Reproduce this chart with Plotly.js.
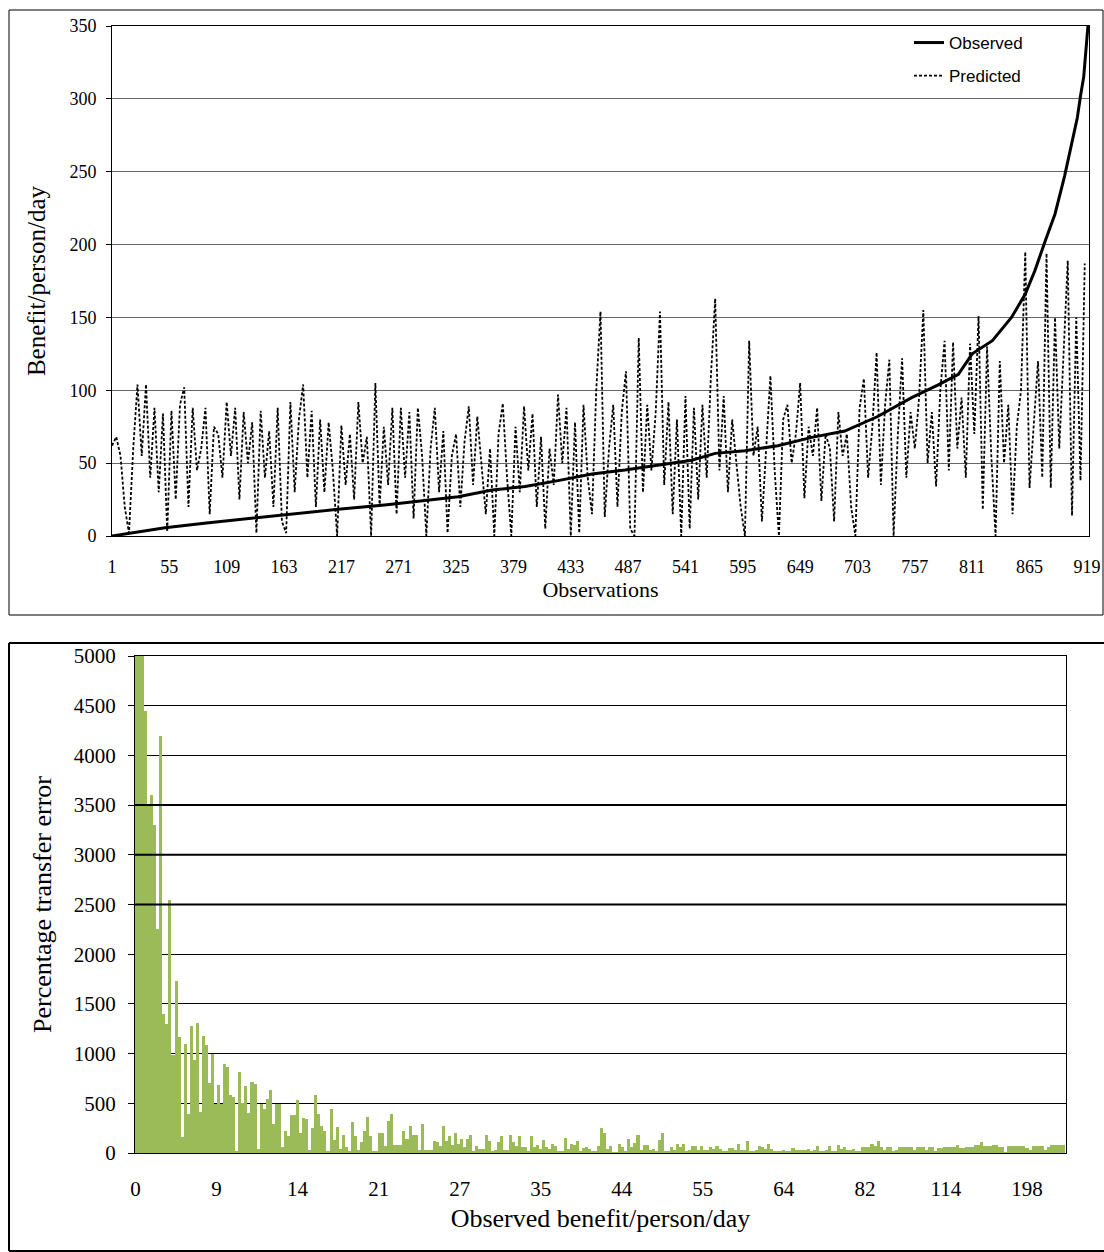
<!DOCTYPE html>
<html>
<head>
<meta charset="utf-8">
<script src="https://cdn.plot.ly/plotly-3.0.1.min.js"></script>
<style>
  html, body { margin: 0; padding: 0; background: #ffffff; }
  #chart { width: 1104px; height: 1252px; }
</style>
</head>
<body>
<div id="chart"></div>
<script>
// ---------- Top chart data (observations sorted by observed benefit) ----------
const topTickVals = [1, 55, 109, 163, 217, 271, 325, 379, 433, 487, 541, 595, 649, 703, 757, 811, 865, 919];
const topTickText = ['1','55','109','163','217','271','325','379','433','487','541','595','649','703','757','811','865','919'];

// Observed benefit/person/day read at selected observation numbers
const observedObs = [1, 20, 51, 90, 136, 175, 214, 260, 296, 327, 359, 390, 421, 453, 484, 515, 547, 569, 597, 628,
                     660, 691, 722, 754, 779, 798, 811, 830, 848, 861, 870, 880, 889, 898, 903, 910, 913, 916, 920];
const observedVal = [0, 2, 5.7, 9, 12.6, 15.5, 18.3, 21.5, 24.3, 27, 31.6, 33.9, 38, 42.6, 45.3, 48.7, 52, 56.7, 58.5, 62,
                     67.7, 72, 82, 95, 103.7, 111, 125, 134, 150, 166, 182, 203, 221, 247, 263, 287, 302, 315, 350];

// Predicted benefit/person/day, read every 4th observation (obs 1, 5, 9, ... 917)
const predictedStep = 4;
const predictedVal = [
  62, 68, 55, 20, 2, 60, 104, 55, 104, 40,
  88, 30, 84, 3, 86, 25, 90, 102, 20, 88,
  45, 60, 88, 15, 75, 70, 40, 92, 55, 88,
  25, 85, 50, 78, 2, 86, 40, 72, 20, 88,
  10, 2, 92, 30, 80, 104, 40, 86, 20, 80,
  30, 78, 45, 0, 76, 35, 70, 25, 92, 50,
  68, 0, 105, 20, 75, 35, 88, 15, 88, 40,
  85, 12, 88, 55, 0, 60, 88, 30, 72, 2,
  55, 70, 20, 65, 89, 35, 82, 50, 15, 60,
  0, 70, 91, 40, 0, 75, 30, 89, 45, 84,
  20, 68, 5, 60, 35, 97, 50, 88, 0, 78,
  2, 90, 40, 15, 100, 154, 13, 60, 90, 20,
  85, 113, 5, 0, 136, 30, 90, 45, 85, 154,
  35, 92, 15, 80, 0, 96, 5, 88, 25, 90,
  40, 110, 163, 45, 96, 30, 80, 50, 20, 0,
  134, 55, 75, 10, 60, 110, 45, 0, 80, 90,
  50, 70, 105, 26, 75, 55, 88, 24, 70, 60,
  10, 85, 55, 70, 20, 0, 88, 108, 40, 75,
  126, 35, 90, 121, 0, 70, 122, 40, 85, 60,
  95, 155, 50, 85, 34, 100, 134, 45, 133, 60,
  95, 40, 132, 70, 151, 18, 130, 55, 0, 120,
  50, 90, 15, 75, 100, 195, 33, 80, 120, 40,
  194, 33, 150, 60, 120, 189, 14, 150, 38, 187
];
const predictedObs = predictedVal.map((_, i) => 1 + predictedStep * i);

// ---------- Bottom chart data (percentage transfer error) ----------
const bottomTickVals = [1, 81, 161, 241, 321, 401, 481, 561, 641, 721, 801, 881];
const bottomTickText = ['0', '9', '14', '21', '27', '35', '44', '55', '64', '82', '114', '198'];

// Transfer error, one value per group of 3 consecutive observations
const errorStep = 3;
const errorVal = [
  5600, 5800, 5400, 4450, 3500, 3600, 3300, 2250, 4200, 1400,
  1300, 2550, 985, 1730, 1170, 160, 1100, 390, 1280, 940,
  1307, 410, 1180, 1086, 700, 995, 493, 684, 493, 895,
  868, 583, 560, 25, 811, 503, 677, 400, 710, 694,
  40, 493, 442, 543, 637, 290, 493, 493, 57, 224,
  174, 382,
  380, 533, 206, 350, 340, 30, 250, 580, 390, 270,
  220, 20, 440, 130, 260, 40, 180, 57, 20, 310,
  173, 33, 107, 220, 360, 173, 20, 20, 206, 200,
  73, 320, 390, 80, 80, 80, 220, 140, 270, 180,
  180, 33, 290, 30, 30, 30, 120, 110, 73, 270,
  120, 170, 80, 200, 90, 140, 60, 140, 180, 23,
  73, 40, 40, 180, 120, 17, 33, 107, 170, 33,
  33, 180, 107, 67, 170, 57, 57, 23, 170, 57,
  80,
  44, 128, 60, 44, 94, 67, 17, 17, 155, 40,
  94, 84, 118, 17, 54, 60, 44, 17, 17, 67,
  255, 205, 44, 67, 10, 10, 94, 60, 17, 144,
  60, 100, 185, 27, 77, 77, 27, 44, 17, 128,
  205, 17, 17, 60, 30, 94, 60, 94, 17, 30,
  67, 67, 27, 67, 27, 27, 60, 40, 67, 44,
  17, 17, 50, 50, 30, 94, 27, 27, 118, 17,
  17, 30, 67, 60, 40, 94, 44, 17, 17, 17,
  30, 17, 17, 54, 30, 27, 27, 27, 44, 17,
  30, 67, 17, 17, 30, 67, 17, 17, 77, 40,
  60, 27, 27, 44, 17, 17, 60, 60, 60, 94,
  67, 118, 60, 27, 60, 60, 17, 30, 60, 60,
  60, 60, 60, 27, 60, 60, 60, 27, 60, 60,
  17, 50, 50, 60, 60, 60, 60, 77, 50, 50,
  60, 60, 60, 77, 77, 111, 70, 70, 70, 77,
  77, 60, 60, 10, 67, 67, 67, 67, 67, 67,
  50, 27, 67, 67, 67, 67, 27, 60, 77, 77,
  77, 77, 77
];
const errorObs = errorVal.map((_, i) => 2 + errorStep * i);

// ---------- Layout helpers ----------
const W = 1104, H = 1252;
const px = v => v / W;
const py = v => (H - v) / H;
const serif = 'Liberation Serif, Times New Roman, serif';
const sans = 'Liberation Sans, Arial, sans-serif';

const traces = [
  {
    type: 'scatter', mode: 'lines', name: 'Observed',
    x: observedObs, y: observedVal, xaxis: 'x', yaxis: 'y',
    line: { color: '#000000', width: 3 },
    legendgroup: 'a'
  },
  {
    type: 'scatter', mode: 'lines', name: 'Predicted',
    x: predictedObs, y: predictedVal, xaxis: 'x', yaxis: 'y',
    line: { color: '#000000', width: 1.8, dash: '3px,2px' },
    legendgroup: 'b'
  },
  {
    type: 'bar', name: 'Percentage transfer error',
    x: errorObs, y: errorVal, xaxis: 'x2', yaxis: 'y2',
    width: errorStep,
    marker: { color: '#9BBB59', line: { width: 0 } },
    showlegend: false
  }
];

const layout = {
  width: W, height: H,
  margin: { l: 0, r: 0, t: 0, b: 0 },
  paper_bgcolor: '#ffffff', plot_bgcolor: '#ffffff',
  bargap: 0,
  showlegend: true,
  legend: {
    x: px(909), y: py(25), xanchor: 'left', yanchor: 'top',
    font: { family: sans, size: 17, color: '#000' },
    bgcolor: 'rgba(0,0,0,0)', traceorder: 'grouped', tracegroupgap: 8
  },
  xaxis: {
    domain: [px(112), px(1089)], anchor: 'y', range: [1, 921],
    tickmode: 'array', tickvals: topTickVals, ticktext: topTickText,
    showgrid: false, zeroline: false,
    showline: true, linecolor: '#000', linewidth: 1, mirror: true,
    ticks: '', ticklabelstandoff: 14,
    tickfont: { family: serif, size: 18, color: '#000' },
    title: { text: 'Observations', font: { family: serif, size: 22, color: '#000' }, standoff: 6 }
  },
  yaxis: {
    domain: [py(536), py(26)], anchor: 'x', range: [0, 350], dtick: 50,
    showgrid: true, gridcolor: '#666666', gridwidth: 1, zeroline: false,
    showline: true, linecolor: '#000', linewidth: 1, mirror: true,
    ticks: 'outside', ticklen: 5, tickcolor: '#000', ticklabelstandoff: 6,
    tickfont: { family: serif, size: 18, color: '#000' },
    title: { text: 'Benefit/person/day', font: { family: serif, size: 25, color: '#000' }, standoff: 16 }
  },
  xaxis2: {
    domain: [px(135), px(1066)], anchor: 'y2', range: [0.5, 919.5],
    tickmode: 'array', tickvals: bottomTickVals, ticktext: bottomTickText,
    showgrid: false, zeroline: false,
    showline: true, linecolor: '#000', linewidth: 1, mirror: true,
    ticks: '', ticklabelstandoff: 17,
    tickfont: { family: serif, size: 21, color: '#000' },
    title: { text: 'Observed benefit/person/day', font: { family: serif, size: 26, color: '#000' }, standoff: 8 }
  },
  yaxis2: {
    domain: [py(1153), py(656)], anchor: 'x2', range: [0, 5000], dtick: 500,
    showgrid: true, gridcolor: '#000', gridwidth: 1, zeroline: false,
    showline: true, linecolor: '#000', linewidth: 1, mirror: true,
    ticks: 'outside', ticklen: 6, tickcolor: '#000', ticklabelstandoff: 8,
    tickfont: { family: serif, size: 21, color: '#000' },
    title: { text: 'Percentage transfer error', font: { family: serif, size: 26, color: '#000' }, standoff: 14 }
  },
  shapes: [
    // frame around the top chart
    { type: 'rect', xref: 'paper', yref: 'paper', x0: px(9), x1: px(1103), y0: py(615), y1: py(10),
      line: { color: '#000', width: 1 }, fillcolor: 'rgba(0,0,0,0)' },
    // frame around the bottom chart (open on the right)
    { type: 'line', xref: 'paper', yref: 'paper', x0: px(9), x1: px(9), y0: py(1251), y1: py(643),
      line: { color: '#000', width: 2 } },
    { type: 'line', xref: 'paper', yref: 'paper', x0: px(9), x1: 1, y0: py(643), y1: py(643),
      line: { color: '#000', width: 2 } },
    { type: 'line', xref: 'paper', yref: 'paper', x0: px(9), x1: 1, y0: py(1251), y1: py(1251),
      line: { color: '#000', width: 2 } },
    // heavier rendered gridlines in the bottom chart
    { type: 'line', xref: 'x2 domain', yref: 'y2', x0: 0, x1: 1, y0: 2500, y1: 2500, line: { color: '#000', width: 2 } },
    { type: 'line', xref: 'x2 domain', yref: 'y2', x0: 0, x1: 1, y0: 3000, y1: 3000, line: { color: '#000', width: 2 } },
    { type: 'line', xref: 'x2 domain', yref: 'y2', x0: 0, x1: 1, y0: 3500, y1: 3500, line: { color: '#000', width: 2 } }
  ]
};

Plotly.newPlot('chart', traces, layout, { staticPlot: true, displayModeBar: false });
</script>
</body>
</html>
